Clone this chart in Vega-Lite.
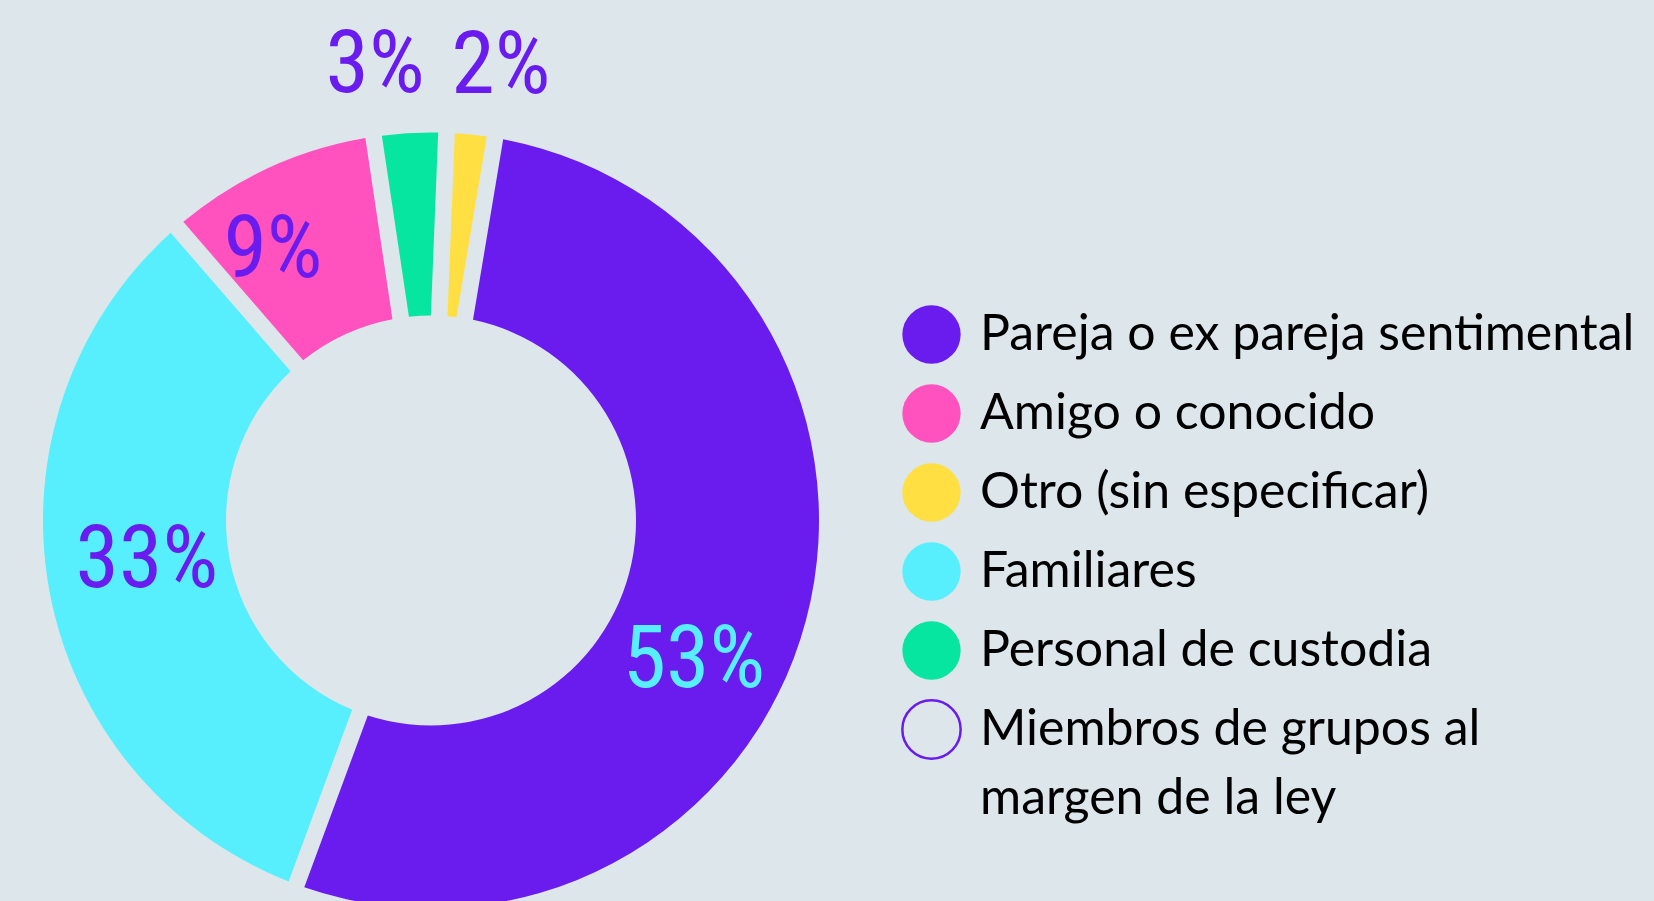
{
  "$schema": "https://vega.github.io/schema/vega-lite/v6.json",
  "width": 1654,
  "height": 901,
  "padding": 0,
  "autosize": {"type": "none"},
  "background": "#dce6eb",
  "config": {"view": {"stroke": null}},
  "data": {"values": [
    {"categoria": "Otro (sin especificar)", "valor": 0.02, "orden": 1},
    {"categoria": "Pareja o ex pareja sentimental", "valor": 0.53, "orden": 2},
    {"categoria": "Familiares", "valor": 0.33, "orden": 3},
    {"categoria": "Amigo o conocido", "valor": 0.09, "orden": 4},
    {"categoria": "Personal de custodia", "valor": 0.03, "orden": 5},
    {"categoria": "Miembros de grupos al margen de la ley", "valor": 0, "orden": 6}
  ]},
  "encoding": {
    "theta": {"field": "valor", "type": "quantitative", "stack": true, "scale": {"range": [0.04, 6.32319]}},
    "order": {"field": "orden", "type": "quantitative"}
  },
  "layer": [
    {
      "mark": {"type": "arc", "innerRadius": 205, "outerRadius": 388, "padAngle": 0.038, "xOffset": -396, "yOffset": 70, "clip": true},
      "encoding": {
        "color": {
          "field": "categoria", "type": "nominal",
          "scale": {
            "domain": ["Pareja o ex pareja sentimental", "Amigo o conocido", "Otro (sin especificar)", "Familiares", "Personal de custodia", "Miembros de grupos al margen de la ley"],
            "range": ["#6a1bee", "#ff52bf", "#ffdf42", "#57effd", "#07e6a0", "#dce6eb"]
          },
          "legend": {
            "title": null, "orient": "none", "legendX": 901, "legendY": 304,
            "symbolType": "circle", "symbolSize": 3400, "symbolStrokeWidth": 0, "symbolOpacity": 1,
            "labelFont": "Lato", "labelFontSize": 50, "labelColor": "#000000",
            "labelOffset": 18, "rowPadding": 10, "labelLimit": 900, "padding": 0,
            "labelExpr": "datum.label === 'Miembros de grupos al margen de la ley' ? ['Miembros de grupos al', 'margen de la ley'] : datum.label",
            "encode": {
              "symbols": {"update": {
                "stroke": {"signal": "datum.value === 'Miembros de grupos al margen de la ley' ? '#6a1bee' : 'transparent'"},
                "strokeWidth": {"value": 2.5}
              }},
              "labels": {"update": {
                "lineHeight": {"value": 69}
              }}
            }
          }
        }
      }
    },
    {
      "mark": {"type": "text", "radius": 459, "thetaOffset": 0.05, "xOffset": -396, "yOffset": 70, "font": "Roboto Condensed, Liberation Sans Narrow, Arial Narrow, DejaVu Sans Condensed, Roboto", "fontSize": 88, "color": "#6a1bee", "align": "center", "baseline": "middle"},
      "encoding": {"text": {"condition": {"test": "datum.categoria === 'Otro (sin especificar)'", "field": "valor", "type": "quantitative", "format": ".0%"}, "value": ""}}
    },
    {
      "mark": {"type": "text", "radius": 298, "thetaOffset": 0.23, "xOffset": -396, "yOffset": 70, "font": "Roboto Condensed, Liberation Sans Narrow, Arial Narrow, DejaVu Sans Condensed, Roboto", "fontSize": 88, "color": "#57effd", "align": "center", "baseline": "middle"},
      "encoding": {"text": {"condition": {"test": "datum.categoria === 'Pareja o ex pareja sentimental'", "field": "valor", "type": "quantitative", "format": ".0%"}, "value": ""}}
    },
    {
      "mark": {"type": "text", "radius": 287, "thetaOffset": 0.04, "xOffset": -396, "yOffset": 70, "font": "Roboto Condensed, Liberation Sans Narrow, Arial Narrow, DejaVu Sans Condensed, Roboto", "fontSize": 88, "color": "#6a1bee", "align": "center", "baseline": "middle"},
      "encoding": {"text": {"condition": {"test": "datum.categoria === 'Familiares'", "field": "valor", "type": "quantitative", "format": ".0%"}, "value": ""}}
    },
    {
      "mark": {"type": "text", "radius": 312, "thetaOffset": -0.1, "xOffset": -396, "yOffset": 70, "font": "Roboto Condensed, Liberation Sans Narrow, Arial Narrow, DejaVu Sans Condensed, Roboto", "fontSize": 88, "color": "#6a1bee", "align": "center", "baseline": "middle"},
      "encoding": {"text": {"condition": {"test": "datum.categoria === 'Amigo o conocido'", "field": "valor", "type": "quantitative", "format": ".0%"}, "value": ""}}
    },
    {
      "mark": {"type": "text", "radius": 458, "thetaOffset": -0.068, "xOffset": -396, "yOffset": 70, "font": "Roboto Condensed, Liberation Sans Narrow, Arial Narrow, DejaVu Sans Condensed, Roboto", "fontSize": 88, "color": "#6a1bee", "align": "center", "baseline": "middle"},
      "encoding": {"text": {"condition": {"test": "datum.categoria === 'Personal de custodia'", "field": "valor", "type": "quantitative", "format": ".0%"}, "value": ""}}
    }
  ]
}
